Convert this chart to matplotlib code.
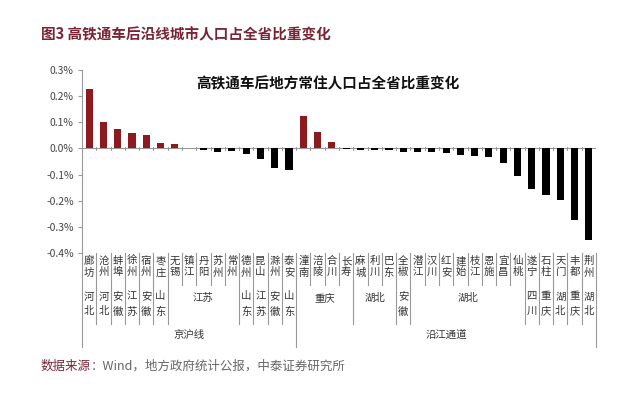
import matplotlib
matplotlib.use("Agg")
import matplotlib.pyplot as plt
import matplotlib.transforms as mtransforms
from matplotlib.lines import Line2D

plt.rcParams['font.family'] = ['Noto Sans CJK SC', 'DejaVu Sans']

# ---------------- data ----------------
cities = ['廊坊', '沧州', '蚌埠', '徐州', '宿州', '枣庄', '无锡', '镇江', '丹阳', '苏州',
          '常州', '德州', '昆山', '滁州', '泰安',
          '潼南', '涪陵', '合川', '长寿', '麻城', '利川', '巴东', '全椒', '潜江', '汉川',
          '红安', '建始', '枝江', '恩施', '宜昌', '仙桃', '遂宁', '石柱', '天门', '丰都', '荆州']
values = [0.227, 0.102, 0.076, 0.060, 0.052, 0.020, 0.016, 0.0, -0.007, -0.012,
          -0.011, -0.023, -0.039, -0.073, -0.084,
          0.124, 0.061, 0.024, -0.002, -0.007, -0.007, -0.007, -0.012, -0.015, -0.015,
          -0.019, -0.024, -0.028, -0.032, -0.055, -0.104, -0.156, -0.179, -0.198, -0.275, -0.351]
province_labels = ['河北', '河北', '安徽', '江苏', '安徽', '山东', '江苏', '山东', '江苏', '安徽', '山东',
                   '重庆', '湖北', '安徽', '湖北', '四川', '重庆', '湖北', '重庆', '湖北']
province_spans = [1, 1, 1, 1, 1, 1, 5, 1, 1, 1, 1,
                  4, 3, 1, 8, 1, 1, 1, 1, 1]
group_labels = ['京沪线', '沿江通道']
group_spans = [15, 21]
yticks = [0.3, 0.2, 0.1, 0.0, -0.1, -0.2, -0.3, -0.4]

# ---------------- figure ----------------
W, H = 640, 412
fig = plt.figure(figsize=(W / 100, H / 100), dpi=100)
fig.patch.set_facecolor('white')

ax_l, ax_r, ax_t, ax_b = 82, 596, 70, 253
ax = fig.add_axes([ax_l / W, 1 - ax_b / H, (ax_r - ax_l) / W, (ax_b - ax_t) / H])

n = len(cities)
x = list(range(n))
colors = ['#8C1A1F' if v > 0 else '#000000' for v in values]
ax.bar(x, values, width=0.5, color=colors, zorder=3)

ax.set_xlim(-0.5, n - 0.5)
ax.set_ylim(-0.4, 0.3)
ax.set_yticks(yticks)
ax.set_yticklabels([f'{t:.1f}%' for t in yticks], fontsize=7.5, color='#444444')
ax.tick_params(axis='y', direction='out', length=3, color='#999999', pad=3)
ax.set_xticks([])

for s in ['top', 'right', 'bottom']:
    ax.spines[s].set_visible(False)
ax.spines['left'].set_color('#999999')
ax.spines['left'].set_linewidth(0.8)

# zero axis with category tick marks
ax.axhline(0, color='#999999', lw=0.8, zorder=2)
for k in range(n + 1):
    ax.plot([k - 0.5, k - 0.5], [-0.006, 0.006], color='#999999', lw=0.7, zorder=2)

# ---------------- multi-level category labels ----------------
trans = mtransforms.blended_transform_factory(ax.transData, fig.transFigure)

def fy(p):
    return 1 - p / H

lab_color = '#333333'
sep_color = '#999999'

prov_bounds = []
c = 0
for s in province_spans:
    c += s
    prov_bounds.append(c)
grp_bounds = []
c = 0
for s in group_spans:
    c += s
    grp_bounds.append(c)

y_top = 253
for k in range(n + 1):
    if k == 0 or k in grp_bounds:
        yb = 347
    elif k in prov_bounds:
        yb = 324
    else:
        yb = 285
    fig.add_artist(Line2D([k - 0.5, k - 0.5], [fy(y_top), fy(yb)], transform=trans,
                          color=sep_color, lw=0.8))

# city labels (vertical stacked chars)
for i, name in enumerate(cities):
    ax.text(i, fy(256), '\n'.join(name), transform=trans, ha='center', va='top',
            fontsize=7.5, color=lab_color, linespacing=1.15)

# province labels
start = 0
for lab, s in zip(province_labels, province_spans):
    center = start + (s - 1) / 2
    if s == 1:
        ax.text(center, fy(304), '\n'.join(lab), transform=trans, ha='center', va='center',
                fontsize=7.5, color=lab_color, linespacing=1.6)
    else:
        ax.text(center, fy(298), lab, transform=trans, ha='center', va='center',
                fontsize=7.5, color=lab_color)
    start += s

# group labels
start = 0
for lab, s in zip(group_labels, group_spans):
    center = start + (s - 1) / 2
    ax.text(center, fy(335), lab, transform=trans, ha='center', va='center',
            fontsize=7.5, color=lab_color)
    start += s

# ---------------- titles & source ----------------
fig.text(328 / W, fy(83), '高铁通车后地方常住人口占全省比重变化', ha='center', va='center',
         fontsize=10.5, fontweight='bold', color='#111111')
fig.text(41 / W, fy(34), '图3 高铁通车后沿线城市人口占全省比重变化', ha='left', va='center',
         fontsize=10.5, fontweight='bold', color='#7A2535')
t1 = fig.text(41 / W, fy(366), '数据来源', ha='left', va='center', fontsize=9, color='#7A2535')
fig.canvas.draw()
bb = t1.get_window_extent()
fig.text(bb.x1 / W, fy(366), '：Wind，地方政府统计公报，中泰证券研究所', ha='left', va='center',
         fontsize=9, color='#666666')

fig.savefig('out.png', dpi=100, facecolor='white')
